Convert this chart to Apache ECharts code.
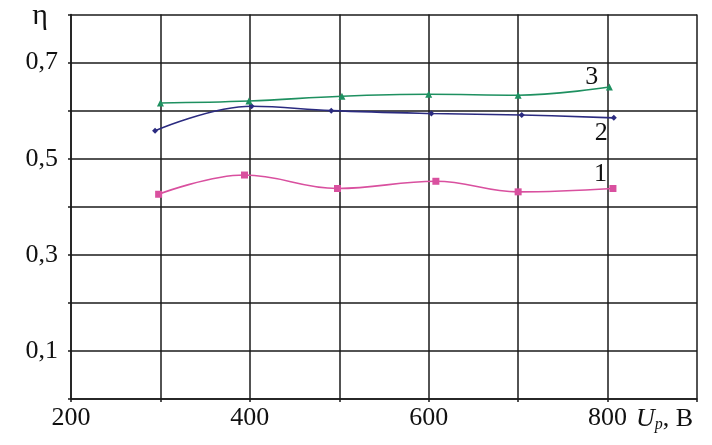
<!DOCTYPE html>
<html><head><meta charset="utf-8">
<script src="https://cdn.jsdelivr.net/npm/echarts@6/dist/echarts.min.js"></script>
<style>html,body{margin:0;padding:0;background:#fff}#c{width:712px;height:445px}</style>
</head><body><div id="c"></div>
<script>
const xTickLabels = ['200', '400', '600', '800'];
const yTickLabels = ['0,1', '0,3', '0,5', '0,7'];
const s1x = [298, 394, 498, 608, 700, 806];
const s1y = [0.426, 0.466, 0.438, 0.453, 0.431, 0.438];
const s2x = [294, 402, 491, 603, 704, 807];
const s2y = [0.558, 0.609, 0.600, 0.594, 0.591, 0.585];
const s3x = [300, 399, 503, 600, 700, 802];
const s3y = [0.616, 0.620, 0.630, 0.634, 0.632, 0.649];
const seriesNames = ['1', '2', '3'];

const font = 'Liberation Serif';
const chart = echarts.init(document.getElementById('c'));
const pairs = (xs, ys) => xs.map((x, i) => [x, ys[i]]);
function mkSeries(name, xs, ys, color, symbol, size, off) {
  return {
    name, type: 'line', data: pairs(xs, ys), smooth: 0.4,
    symbol, symbolSize: size,
    lineStyle: { color, width: 1.6 },
    itemStyle: { color },
    endLabel: { show: true, formatter: name, color: '#111', fontFamily: font, fontSize: 26, offset: off },
    z: 3
  };
}
chart.setOption({
  backgroundColor: '#fff',
  animation: false,
  grid: { left: 71, right: 15, top: 14.5, bottom: 46 },
  xAxis: {
    type: 'value', min: 200, max: 900, interval: 100,
    axisLine: { show: true, lineStyle: { color: '#1a1a1a', width: 1.5 } },
    axisTick: { show: true, length: 3, lineStyle: { color: '#1a1a1a', width: 1.5 } },
    splitLine: { show: true, lineStyle: { color: '#1a1a1a', width: 1.5 } },
    axisLabel: {
      color: '#111', fontFamily: font, fontSize: 26, margin: 6,
      formatter: v => xTickLabels.includes(String(v)) ? String(v) : ''
    },
    name: '{i|U}{s|p}{n|, B}', nameLocation: 'end', nameGap: 0,
    nameTextStyle: {
      align: 'right', verticalAlign: 'top', padding: [6, 4, 0, 0],
      rich: {
        i: { fontFamily: font, fontStyle: 'italic', fontSize: 26, color: '#111' },
        s: { fontFamily: font, fontStyle: 'italic', fontSize: 16, color: '#111', verticalAlign: 'bottom', padding: [12, 0, 0, 0] },
        n: { fontFamily: font, fontSize: 26, color: '#111' }
      }
    }
  },
  yAxis: {
    type: 'value', min: 0, max: 0.8, interval: 0.1,
    axisLine: { show: true, lineStyle: { color: '#1a1a1a', width: 1.5 } },
    axisTick: { show: true, length: 3, lineStyle: { color: '#1a1a1a', width: 1.5 } },
    splitLine: { show: true, lineStyle: { color: '#1a1a1a', width: 1.5 } },
    axisLabel: {
      color: '#111', fontFamily: font, fontSize: 26, margin: 13,
      formatter: v => {
        const s = v.toFixed(1).replace('.', ',');
        return yTickLabels.includes(s) ? s : '';
      }
    },
    name: 'η', nameLocation: 'end', nameGap: -2,
    nameTextStyle: { color: '#111', fontFamily: font, fontSize: 30, align: 'right', verticalAlign: 'middle', padding: [0, 23, 0, 0] }
  },
  series: [
    mkSeries(seriesNames[0], s1x, s1y, '#d9509f', 'rect', 7, [-27, -14]),
    mkSeries(seriesNames[1], s2x, s2y, '#2b2b80', 'diamond', 6, [-27, 15]),
    mkSeries(seriesNames[2], s3x, s3y, '#1e9060', 'triangle', 7, [-32, -10])
  ]
});
</script></body></html>
